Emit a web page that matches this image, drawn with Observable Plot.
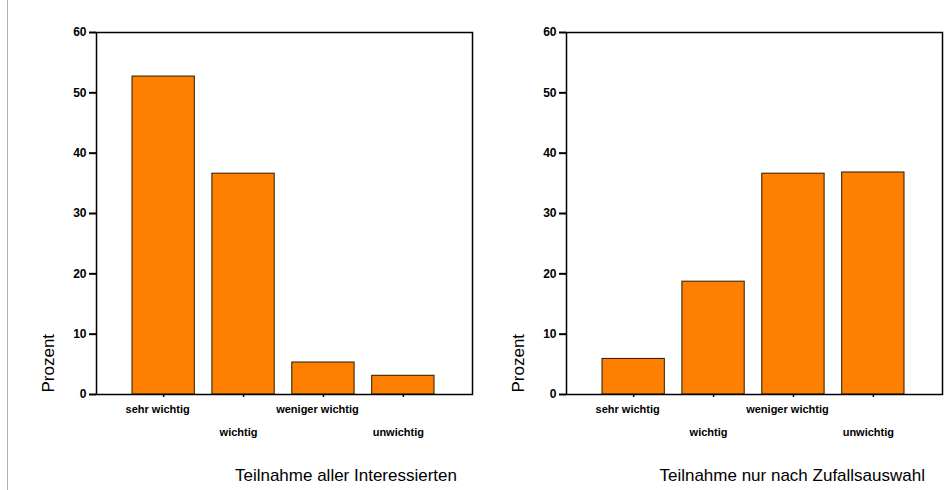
<!DOCTYPE html>
<html><head><meta charset="utf-8">
<script src="https://cdn.jsdelivr.net/npm/d3@7"></script>
<script src="https://cdn.jsdelivr.net/npm/@observablehq/plot@0.6"></script>
<style>
body{margin:0;background:#fff;font-family:"Liberation Sans",Arial,sans-serif;}
#wrap{position:relative;width:949px;height:490px;overflow:hidden;background:#fff}
#rule{position:absolute;left:7px;top:0;width:1px;height:490px;background:#b0b0b0}
.panel{position:absolute;top:0}
.title{position:absolute;top:466px;font-size:17px;color:#000;text-align:right;white-space:nowrap}
.panel svg g[aria-label$="axis"] text{letter-spacing:-0.5px}
</style>
</head><body>
<div id="wrap"><div id="rule"></div>
<div id="p1" class="panel" style="left:0"></div>
<div id="p2" class="panel" style="left:470px"></div>
<div id="t1" class="title" style="left:0;width:457px"></div>
<div id="t2" class="title" style="left:470px;width:455px"></div>
</div>
<script>
const categories = ["sehr wichtig", "wichtig", "weniger wichtig", "unwichtig"];
const alleValues = [52.7, 36.6, 5.3, 3.1];
const zufallValues = [5.9, 18.7, 36.6, 36.8];
const yTicks = [0, 10, 20, 30, 40, 50, 60];
const yLabel = "Prozent";
const titles = ["Teilnahme aller Interessierten", "Teilnahme nur nach Zufallsauswahl"];

function panel(values) {
  const data = categories.map((c, i) => ({cat: c, value: values[i]}));
  return Plot.plot({
    width: 479, height: 444,
    marginLeft: 96, marginRight: 7, marginTop: 32, marginBottom: 50,
    style: {fontFamily: "'Liberation Sans', Arial, sans-serif", fontSize: "11px", background: "transparent", color: "#000"},
    x: {domain: categories, paddingInner: 0.22, paddingOuter: 0, insetLeft: 36, insetRight: 38, round: false, axis: null},
    y: {domain: [0, 60], axis: null},
    marks: [
      Plot.barY(data, {x: "cat", y: "value", fill: "#FF8000", stroke: "#2a1800", strokeWidth: 1}),
      Plot.frame({stroke: "#000", strokeWidth: 1.5}),
      Plot.axisY({ticks: yTicks, tickSize: 7, tickPadding: 3, strokeWidth: 2, fontWeight: "bold", fontSize: 12, label: null}),
      Plot.axisX({ticks: categories, tickSize: 3, strokeWidth: 1.5, tickFormat: () => "", label: null}),
      Plot.axisX({ticks: [categories[0], categories[2]], tickSize: 0, tickPadding: 11, dx: -6, fontWeight: "bold", fontSize: 11, lineAnchor: "top", label: null}),
      Plot.axisX({ticks: [categories[1], categories[3]], tickSize: 0, tickPadding: 34, dx: -5, fontWeight: "bold", fontSize: 11, lineAnchor: "top", label: null}),
      Plot.text([yLabel], {text: d => d, frameAnchor: "bottom-left", rotate: -90, textAnchor: "start", dx: -43, dy: -2, fontSize: 17})
    ]
  });
}
document.getElementById("p1").appendChild(panel(alleValues));
document.getElementById("p2").appendChild(panel(zufallValues));
document.getElementById("t1").textContent = titles[0];
document.getElementById("t2").textContent = titles[1];
</script>
</body></html>
